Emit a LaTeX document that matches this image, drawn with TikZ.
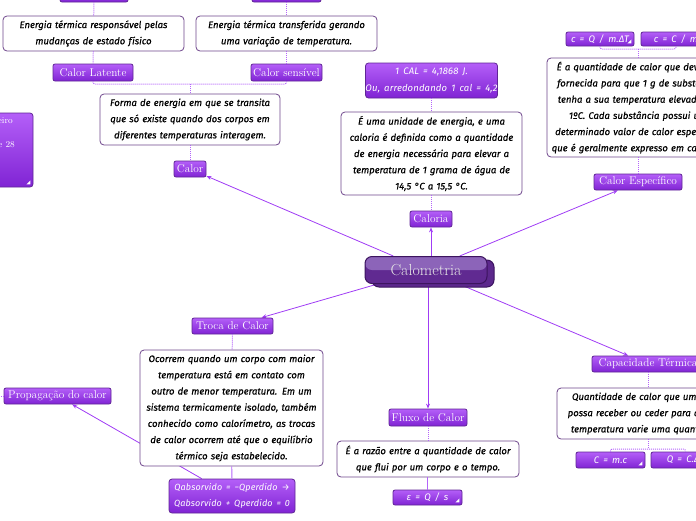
\documentclass[tikz,border=0pt]{standalone}
\usepackage{fontspec}
\newfontfamily\hand{Fira Sans}[ItalicFeatures={FakeBold=0.6}]
\newfontfamily\handf{Fira Sans}[WordSpace=1.6, LetterSpace=1.5]
\usetikzlibrary{calc,arrows.meta}
\pgfdeclarelayer{background}
\pgfsetlayers{background,main}
\definecolor{tpTop}{RGB}{180,95,248}
\definecolor{tpBot}{RGB}{128,36,212}
\definecolor{tpBorder}{RGB}{96,38,150}
\definecolor{dsBorder}{RGB}{110,70,140}
\definecolor{connc}{RGB}{160,60,245}
\definecolor{dotc}{RGB}{180,100,250}
\definecolor{calFront}{RGB}{96,42,145}
\definecolor{calGloss}{RGB}{140,100,185}
\definecolor{calBack}{RGB}{92,40,140}
\definecolor{calBorder}{RGB}{60,20,95}
\tikzset{
 topic/.style={draw=tpBorder, line width=0.8pt, top color=tpTop, bottom color=tpBot, rounded corners=2pt, text=white, font=\fontsize{11.3}{13}\selectfont, inner sep=0pt, minimum height=16pt},
 formula/.style={topic, font=\handf\itshape\fontsize{9.5}{16.5}\selectfont, align=center},
 desc/.style={draw=dsBorder, line width=0.8pt, fill=white, rounded corners=4pt, align=center, font=\hand\itshape\fontsize{9.5}{16.2}\selectfont, inner sep=0pt},
 dotline/.style={dotc, densely dotted, line width=1pt},
 solidline/.style={dotc, line width=0.8pt},
 arrowline/.style={connc, line width=0.8pt, -{Stealth[length=5pt,width=4pt]}},
 calofront/.style={draw=calBorder, line width=1pt, fill=calFront, rounded corners=7pt, text=black!10, font=\fontsize{16}{18}\selectfont, minimum width=122pt, minimum height=27pt, inner sep=0pt,
   path picture={\fill[calGloss] (path picture bounding box.north west) rectangle (path picture bounding box.east);}},
 caloback/.style={draw=calBorder, line width=1pt, fill=calBack, rounded corners=7pt, minimum width=122pt, minimum height=27pt},
}
\newcommand\notemark[1]{\fill[white] ($(#1.south east)+(-3,-3)$) -- ($(#1.south east)+(-7,-3)$) -- ($(#1.south east)+(-3,-7)$) -- cycle;}
\begin{document}
\begin{tikzpicture}[x=1pt,y=-1pt]
\useasboundingbox (0,0) rectangle (696,520);
\clip (0,0) rectangle (696,520);

% ---------- top left branch (Calor) ----------
\node[topic, minimum width=68pt] (tb1) at (94,-6) {};
\node[topic, minimum width=69pt] (tb2) at (286.5,-6) {};
\node[desc, minimum width=181pt, minimum height=35pt, text width=179pt] (d1) at (93.5,33.5) {Energia térmica responsável pelas\\ mudanças de estado físico};
\node[desc, minimum width=181pt, minimum height=35pt, text width=179pt] (d2) at (286.5,33.5) {Energia térmica transferida gerando\\ uma variação de temperatura.};
\node[topic, minimum width=80pt, minimum height=17pt] (lat) at (93,72.5) {Calor Latente};
\node[topic, minimum width=71pt, minimum height=17pt] (sen) at (286.5,72.5) {Calor sensível};
\node[desc, minimum width=180pt, minimum height=51pt, text width=178pt] (d3) at (190,119.5) {Forma de energia em que se transita\\ que só existe quando dos corpos em\\ diferentes temperaturas interagem.};
\node[topic, minimum width=32pt] (calor) at (190,169) {Calor};
\coordinate (b1) at (190,84);
\draw[dotline] (tb1) -- (d1);
\draw[dotline] (tb2) -- (d2);
\draw[dotline] (d1) -- (lat);
\draw[dotline] (d2) -- (sen);
\draw[dotline, rounded corners=2pt] (lat.south) |- (b1) -| (sen.south);
\draw[dotline] (b1) -- (d3.north);
\draw[dotline] (d3) -- (calor);

% ---------- left partial box ----------
\node[topic, minimum width=53pt, minimum height=74pt, rounded corners=3pt] (lb) at (6.5,150) {};
\node[anchor=east, text=white, font=\fontsize{9}{10}\selectfont, inner sep=0pt] (lbt1) at (13,121) {eiro};
\node[anchor=east, text=white, font=\fontsize{9}{10}\selectfont, inner sep=0pt] (lbt2) at (15,144) {de 28};
\notemark{lb}

% ---------- center ----------
\node[caloback] (cback) at (433,273.5) {};
\node[calofront] (calo) at (426,270) {Calometria};

% ---------- Caloria ----------
\node[formula, minimum width=129pt, minimum height=35pt, rounded corners=3pt] (calbox) at (431.5,80.5) {1 CAL = 4,1868 J.\\ Ou, arredondando 1 cal = 4,2};
\node[desc, minimum width=181pt, minimum height=83pt, text width=179pt] (d4) at (431.5,153.5) {É uma unidade de energia, e uma\\ caloria é definida como a quantidade\\ de energia necessária para elevar a\\ temperatura de 1 grama de água de\\ 14,5 °C a 15,5 °C.};
\node[topic, minimum width=42pt] (caloria) at (431,219) {Caloria};
\draw[dotline] (calbox) -- (d4);
\draw[dotline] (d4.south -| caloria) -- (caloria);

% ---------- Calor Especifico ----------
\node[formula, minimum width=68pt, minimum height=14pt] (f1) at (600,39) {c = Q / m.ΔT};
\notemark{f1}
\node[formula, minimum width=70pt, minimum height=14pt] (f2) at (676,39) {c = C / m};
\node[desc, minimum width=182pt, minimum height=99pt, text width=180pt] (d5) at (638,107.5) {É a quantidade de calor que deve ser\\ fornecida para que 1 g de substância\\ tenha a sua temperatura elevada em\\ 1ºC. Cada substância possui um\\ determinado valor de calor específico,\\ que é geralmente expresso em cal/g.°C.};
\node[topic, minimum width=88pt] (esp) at (638,182) {Calor Específico};
\coordinate (b2) at (638,49);
\draw[dotline, rounded corners=2pt] (f1.south) |- (b2) -| (f2.south);
\draw[dotline] (b2) -- (d5.north);
\draw[dotline] (d5) -- (esp);

% ---------- Troca de Calor ----------
\node[topic, minimum width=81pt] (troca) at (232.5,326) {Troca de Calor};
\node[topic, minimum width=107pt] (prop) at (57.5,396) {Propagação do calor};
\node[formula, minimum width=126pt, minimum height=34pt, rounded corners=3pt, font=\handf\itshape\fontsize{9}{16.5}\selectfont] (qbox) at (232,496) {Qabsorvido = −Qperdido →\\ Qabsorvido + Qperdido = 0};
\begin{pgfonlayer}{background}
\draw[arrowline] (qbox) -- (prop);
\end{pgfonlayer}
\node[desc, minimum width=183pt, minimum height=116pt, text width=181pt] (d6) at (231.5,408) {Ocorrem quando um corpo com maior\\ temperatura está em contato com\\ outro de menor temperatura. Em um\\ sistema termicamente isolado, também\\ conhecido como calorímetro, as trocas\\ de calor ocorrem até que o equilíbrio\\ térmico seja estabelecido.};
\coordinate (pl) at (-5,396);
\draw[dotline] (prop.west) -- (pl);
\draw[dotline] (troca) -- (d6);
\draw[solidline] (d6) -- (qbox);

% ---------- Fluxo de Calor ----------
\node[topic, minimum width=78pt, minimum height=17pt] (fluxo) at (428,417.5) {Fluxo de Calor};
\node[desc, minimum width=182pt, minimum height=36pt, text width=180pt] (d7) at (428,459) {É a razão entre a quantidade de calor\\ que flui por um corpo e o tempo.};
\node[formula, minimum width=69pt, minimum height=15pt] (eps) at (427.5,497.5) {ε = Q / s};
\notemark{eps}
\draw[dotline] (fluxo) -- (d7);
\draw[solidline] (d7.south -| eps) -- (eps);

% ---------- Capacidade Termica ----------
\node[topic, minimum width=112pt] (cap) at (648,364) {Capacidade Térmica};
\node[desc, minimum width=182pt, minimum height=51pt, text width=180pt] (d8) at (648,413.5) {Quantidade de calor que um corpo\\ possa receber ou ceder para que sua\\ temperatura varie uma quantidade.};
\node[formula, minimum width=69pt] (cmc) at (610.5,460) {C = m.c};
\notemark{cmc}
\node[formula, minimum width=69pt] (qcd) at (685.5,460) {Q = C.ΔT};
\coordinate (b3) at (648,449);
\draw[dotline] (cap) -- (d8);
\draw[dotline] (d8.south) -- (b3);
\draw[dotline, rounded corners=2pt] (cmc.north) |- (b3) -| (qcd.north);

% ---------- connectors from center ----------
\begin{pgfonlayer}{background}
\draw[arrowline] (calo) -- (calor);
\draw[arrowline] (calo.north -| caloria) -- (caloria);
\draw[arrowline] (calo) -- (esp);
\draw[arrowline] (calo) -- (troca);
\draw[arrowline] (calo.south -| fluxo) -- (fluxo);
\draw[arrowline] (calo) -- (cap);
\end{pgfonlayer}
\end{tikzpicture}
\end{document}
